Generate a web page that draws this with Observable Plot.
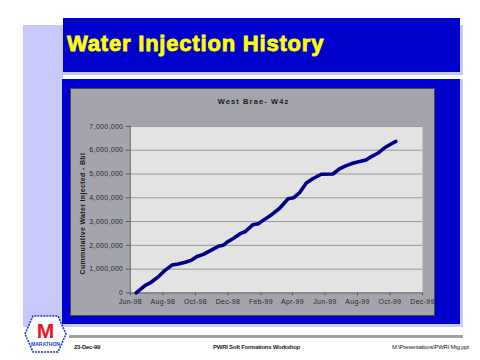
<!DOCTYPE html>
<html>
<head>
<meta charset="utf-8">
<script src="https://cdn.jsdelivr.net/npm/d3@7"></script>
<script src="https://cdn.jsdelivr.net/npm/@observablehq/plot@0.6"></script>
<style>
  html, body { margin: 0; padding: 0; background: #ffffff; width: 480px; height: 360px; overflow: hidden; }
  .abs { position: absolute; }
  #lav { left: 23px; top: 25px; width: 440px; height: 302px; background: #c8c8fa; }
  #gap { left: 63px; top: 75px; width: 401px; height: 4px; background: #ffffff; }
  #titlebox { left: 63px; top: 18px; width: 397px; height: 54px; background: #0000cc; }
  #titletext { left: 67px; top: 31px; font-family: "Liberation Sans", Arial, sans-serif; font-weight: 900; font-size: 22px; letter-spacing: 0.8px; color: #ffff00; -webkit-text-stroke: 0.8px #ffff00; white-space: nowrap; }
  #chartbox { left: 62px; top: 79px; width: 398px; height: 245px; background: #0000cc; }
  #panel { left: 70px; top: 88px; width: 363px; height: 226px; background: #a4a4ac; border: 1px solid #4a4a52; }
  #charttitle { left: 0; top: 8px; width: 365px; text-align: center; font-family: "Liberation Sans", Arial, sans-serif; font-weight: bold; font-size: 7.5px; letter-spacing: 1.1px; color: #202020; }
  #chart { left: -1px; top: -1px; }
  #chart svg text { letter-spacing: 0.35px; }
  #bar { left: 69px; top: 335px; width: 394px; height: 3px; background: #a0a0a0; }
  .foot { top: 344px; font-family: "Liberation Sans", Arial, sans-serif; font-weight: bold; font-size: 6px; letter-spacing: -0.25px; color: #222; white-space: nowrap; }
</style>
</head>
<body>
<div class="abs" id="lav"></div>
<div class="abs" id="gap"></div>
<div class="abs" id="titlebox"></div>
<div class="abs" id="titletext">Water Injection History</div>
<div class="abs" id="chartbox"></div>
<div class="abs" id="panel">
  <div class="abs" id="charttitle">West Brae- W4z</div>
  <div class="abs" id="chart"></div>
</div>
<div class="abs" id="bar"></div>
<div class="abs foot" style="left:74px;">23-Dec-99</div>
<div class="abs foot" style="left:213px;">PWRI Soft Formations Workshop</div>
<div class="abs foot" style="left:392px;font-weight:normal;">M:\Presentations\PWRI Mtg.ppt</div>
<svg class="abs" style="left:0;top:0;" width="480" height="360">
  <polygon points="25,334 33,316 58,316 66,334 58,352 33,352" fill="#ffffff" stroke="#1a3ad0" stroke-width="1.6" stroke-dasharray="2,1"/>
  <text x="45.5" y="337.5" text-anchor="middle" font-family="Liberation Sans, Arial, sans-serif" font-weight="900" font-size="21" fill="#ee1122">M</text>
  <text x="45.5" y="346" text-anchor="middle" font-family="Liberation Sans, Arial, sans-serif" font-weight="bold" font-size="4.5" fill="#1a3ad0" textLength="29" lengthAdjust="spacingAndGlyphs">MARATHON</text>
</svg>
<script>
// Data
const dates = [
  "1998-06-12","1998-06-29","1998-07-08","1998-07-23","1998-08-05","1998-08-18","1998-08-30",
  "1998-09-12","1998-09-24","1998-10-04","1998-10-16","1998-10-29","1998-11-13","1998-11-22",
  "1998-11-29","1998-12-11","1998-12-24","1999-01-02","1999-01-17","1999-01-27","1999-02-05",
  "1999-02-21","1999-03-08","1999-03-24","1999-04-03","1999-04-15","1999-04-27","1999-05-09",
  "1999-05-25","1999-06-16","1999-06-28","1999-07-11","1999-07-23","1999-08-05","1999-08-17",
  "1999-08-27","1999-09-08","1999-09-20","1999-10-03","1999-10-12"
];
const values = [
  0, 320000, 420000, 670000, 950000, 1170000, 1220000,
  1290000, 1380000, 1530000, 1620000, 1780000, 1960000, 2000000,
  2130000, 2290000, 2490000, 2570000, 2870000, 2910000, 3050000,
  3290000, 3560000, 3960000, 4000000, 4230000, 4620000, 4800000,
  4990000, 5000000, 5210000, 5350000, 5450000, 5520000, 5590000,
  5730000, 5870000, 6090000, 6260000, 6370000
];
const xTickDates = ["1998-06-01","1998-08-01","1998-10-01","1998-12-01","1999-02-01",
  "1999-04-01","1999-06-01","1999-08-01","1999-10-01","1999-12-01"];
const yTicks = [0, 1000000, 2000000, 3000000, 4000000, 5000000, 6000000, 7000000];
const yTitle = "Cummulative Water Injected - Bbl";

const data = dates.map((d, i) => ({date: new Date(d), value: values[i]}));
const xT = xTickDates.map(d => new Date(d));

const chart = Plot.plot({
  width: 365,
  height: 228,
  marginLeft: 60,
  marginRight: 12,
  marginTop: 38,
  marginBottom: 23,
  style: {background: "transparent", fontFamily: "'Liberation Sans', Arial, sans-serif", fontSize: "7px", color: "#2a2a2a", overflow: "visible"},
  x: {type: "utc", domain: [xT[0], xT[xT.length - 1]]},
  y: {domain: [0, 7000000]},
  marks: [
    Plot.frame({fill: "#e3e3e3", stroke: "none"}),
    Plot.gridY(yTicks, {stroke: "#979797", strokeOpacity: 1, strokeWidth: 1}),
    Plot.axisY(yTicks, {tickFormat: d3.format(","), tickSize: 4, tickPadding: 3, label: null, stroke: "#555"}),
    Plot.axisX(xT, {tickFormat: d3.utcFormat("%b-%y"), tickSize: 3, tickPadding: 3, label: null, stroke: "#555"}),
    Plot.ruleX([xT[0]], {stroke: "#6a6a6a"}),
    Plot.ruleY([0], {stroke: "#6a6a6a"}),
    Plot.line(data, {x: "date", y: "value", stroke: "#000088", strokeWidth: 3.6, strokeLinejoin: "round", strokeLinecap: "round"}),
    Plot.text([yTitle], {frameAnchor: "left", textAnchor: "middle", rotate: -90, dx: -48, dy: 4, fontWeight: "bold", fontSize: 7, fill: "#1a1a1a"})
  ]
});
document.getElementById("chart").appendChild(chart);
</script>
</body>
</html>
